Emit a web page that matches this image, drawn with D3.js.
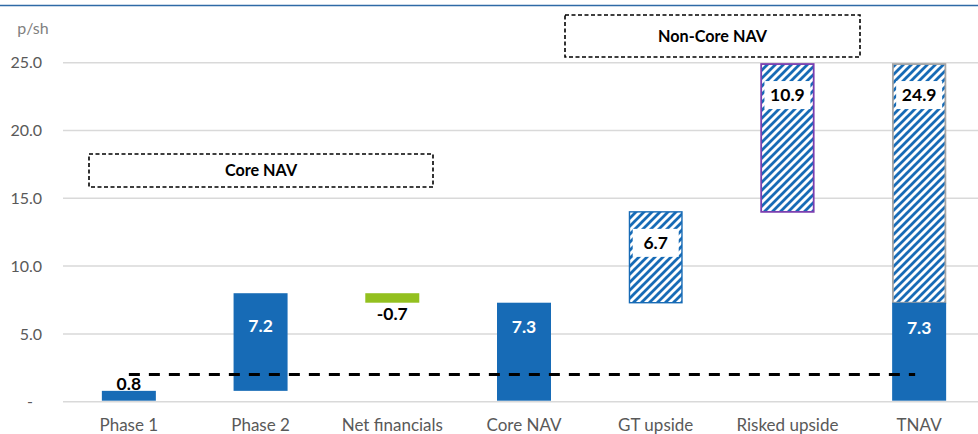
<!DOCTYPE html>
<html><head><meta charset="utf-8">
<script src="https://cdn.jsdelivr.net/npm/d3@7"></script>
<style>
html,body{margin:0;padding:0;background:#fff;}
svg{display:block;}
</style></head>
<body>
<svg id="chart" width="978" height="434"></svg>
<script>
// ---- data ----
const categories = ["Phase 1","Phase 2","Net financials","Core NAV","GT upside","Risked upside","TNAV"];
const stepValues = [0.8, 7.2, -0.7, null, 6.7, 10.9, null];     // increments
const totalValues = [null, null, null, 7.3, null, null, 24.9];   // totals
const tnavCore = 7.3;                                             // solid part of TNAV
const referenceLine = 2.0;                                        // dashed line value
const tickValues = [0, 5, 10, 15, 20, 25];
const tickLabels = ["-", "5.0", "10.0", "15.0", "20.0", "25.0"];
const boxLabels = ["Core NAV", "Non-Core NAV"];

// ---- layout ----
const W = 978, H = 434;
const svg = d3.select("#chart");
const x = d3.scaleBand().domain(categories).range([63, 985]).paddingInner(0.59).paddingOuter(0.295);
const y = d3.scaleLinear().domain([0, 25]).range([401.7, 62.7]);

const BLUE = "#176bb6", GREEN = "#93c01f", FONT = "Lato, 'Open Sans', sans-serif";

// hatch pattern
const defs = svg.append("defs");
const pat = defs.append("pattern").attr("id","hatch").attr("patternUnits","userSpaceOnUse")
  .attr("width",8).attr("height",8);
pat.append("rect").attr("width",8).attr("height",8).attr("fill","#fff");
pat.append("path").attr("d","M-2,2 L2,-2 M0,8 L8,0 M6,10 L10,6")
  .attr("stroke",BLUE).attr("stroke-width",2.8);

// top rule
svg.append("line").attr("x1",0).attr("x2",W).attr("y1",5.5).attr("y2",5.5)
  .attr("stroke","#2e6aa6").attr("stroke-width",1.6);

// gridlines
svg.append("g").selectAll("line").data(tickValues).join("line")
  .attr("x1",63).attr("x2",W).attr("y1",d=>y(d)).attr("y2",d=>y(d))
  .attr("stroke","#d9d9d9").attr("stroke-width",1.5);

// y axis labels
const yAxis = d3.axisLeft(y).tickValues(tickValues).tickFormat((d,i)=>tickLabels[i]).tickSize(0).tickPadding(0);
const gy = svg.append("g").attr("transform","translate(42,0)").call(yAxis);
gy.select(".domain").remove();
gy.selectAll("text").attr("font-family",FONT).attr("font-size",16).attr("fill","#595959");
gy.selectAll(".tick").filter(d=>d===0).select("text").attr("dx",-9);

svg.append("text").attr("x",33).attr("y",28).attr("dy","0.35em").attr("text-anchor","middle")
  .attr("font-family",FONT).attr("font-size",16).attr("fill","#7f7f7f").text("p/sh");

// x axis labels
const xAxis = d3.axisBottom(x).tickSize(0).tickPadding(0);
const gx = svg.append("g").attr("transform","translate(0,425)").call(xAxis);
gx.select(".domain").remove();
gx.selectAll("text").attr("dy","0.35em").attr("font-family",FONT).attr("font-size",17).attr("fill","#595959");

// compute waterfall segments
const segs = [];
let run = 0;
categories.forEach((c,i)=>{
  if (stepValues[i] !== null) {
    const s = run, e = run + stepValues[i];
    segs.push({c, i, lo: Math.min(s,e), hi: Math.max(s,e), v: stepValues[i]});
    run = e;
  } else {
    segs.push({c, i, lo: 0, hi: totalValues[i], v: totalValues[i], total: true});
  }
});

const g = svg.append("g");
segs.forEach(d=>{
  const bx = x(d.c), bw = x.bandwidth();
  const isNonCore = d.i >= 4;
  if (d.c === "TNAV") {
    g.append("rect").attr("x",bx+0.75).attr("y",y(d.hi)).attr("width",bw-1.5).attr("height",y(tnavCore)-y(d.hi))
      .attr("fill","url(#hatch)").attr("stroke","#a6a6a6").attr("stroke-width",1.8);
    g.append("rect").attr("x",bx).attr("y",y(tnavCore)).attr("width",bw).attr("height",y(0)-y(tnavCore)-1)
      .attr("fill",BLUE);
  } else if (isNonCore) {
    g.append("rect").attr("x",bx+0.75).attr("y",y(d.hi)).attr("width",bw-1.5).attr("height",y(d.lo)-y(d.hi))
      .attr("fill","url(#hatch)")
      .attr("stroke", d.c==="Risked upside" ? "#7b3fb0" : BLUE)
      .attr("stroke-width", d.c==="Risked upside" ? 1.8 : 1.4);
  } else {
    g.append("rect").attr("x",bx).attr("y",y(d.hi)).attr("width",bw).attr("height",Math.max(0,y(d.lo)-y(d.hi)-(d.lo===0?1:0)))
      .attr("fill", d.v < 0 ? GREEN : BLUE);
  }
});

// reference dashed line
svg.append("line")
  .attr("x1", x(categories[0]) + x.bandwidth()/2)
  .attr("x2", x(categories[categories.length-1]) + x.bandwidth()/2 - 4)
  .attr("y1", y(referenceLine)).attr("y2", y(referenceLine))
  .attr("stroke","#000").attr("stroke-width",3).attr("stroke-dasharray","11,9");

// value labels
function label(cx, cy, txt, color, boxed) {
  if (boxed) {
    g.append("rect").attr("x",cx-23).attr("y",cy-14).attr("width",46).attr("height",28).attr("fill","#fff");
  }
  g.append("text").attr("x",cx).attr("y",cy).attr("dy","0.36em").attr("text-anchor","middle")
    .attr("font-family",FONT).attr("font-weight","bold").attr("font-size",17.5).attr("fill",color).text(txt);
}
const fmt = v => d3.format(".1f")(v).replace("\u2212","-");
segs.forEach(d=>{
  const cx = x(d.c) + x.bandwidth()/2;
  if (d.c === "Phase 1") label(cx, y(d.hi) - 7, fmt(d.v), "#000");
  else if (d.c === "Net financials") label(cx, y(d.lo) + 11, fmt(d.v), "#000");
  else if (d.c === "TNAV") {
    label(cx, y(d.hi) + 31, fmt(d.v), "#000", true);
    label(cx, y(tnavCore) + 25, fmt(tnavCore), "#fff");
  }
  else if (d.i >= 4) label(cx, y(d.hi) + 31, fmt(d.v), "#000", true);
  else if (d.total) label(cx, y(d.hi) + 24, fmt(d.v), "#fff");
  else label(cx, y(d.hi) + 32, fmt(d.v), "#fff");
});

// group boxes
const boxes = [
  {t: boxLabels[0], x0: 89, x1: 433, y0: 154, y1: 187},
  {t: boxLabels[1], x0: 565, x1: 860, y0: 15, y1: 57}
];
boxes.forEach(b=>{
  svg.append("rect").attr("x",b.x0).attr("y",b.y0).attr("width",b.x1-b.x0).attr("height",b.y1-b.y0)
    .attr("fill","#fff").attr("stroke","#000").attr("stroke-width",1.6).attr("stroke-dasharray","4,2.5");
  svg.append("text").attr("x",(b.x0+b.x1)/2).attr("y",(b.y0+b.y1)/2).attr("dy","0.36em").attr("text-anchor","middle")
    .attr("font-family",FONT).attr("font-weight","bold").attr("font-size",16.2).attr("fill","#000").text(b.t);
});
</script>
</body></html>
